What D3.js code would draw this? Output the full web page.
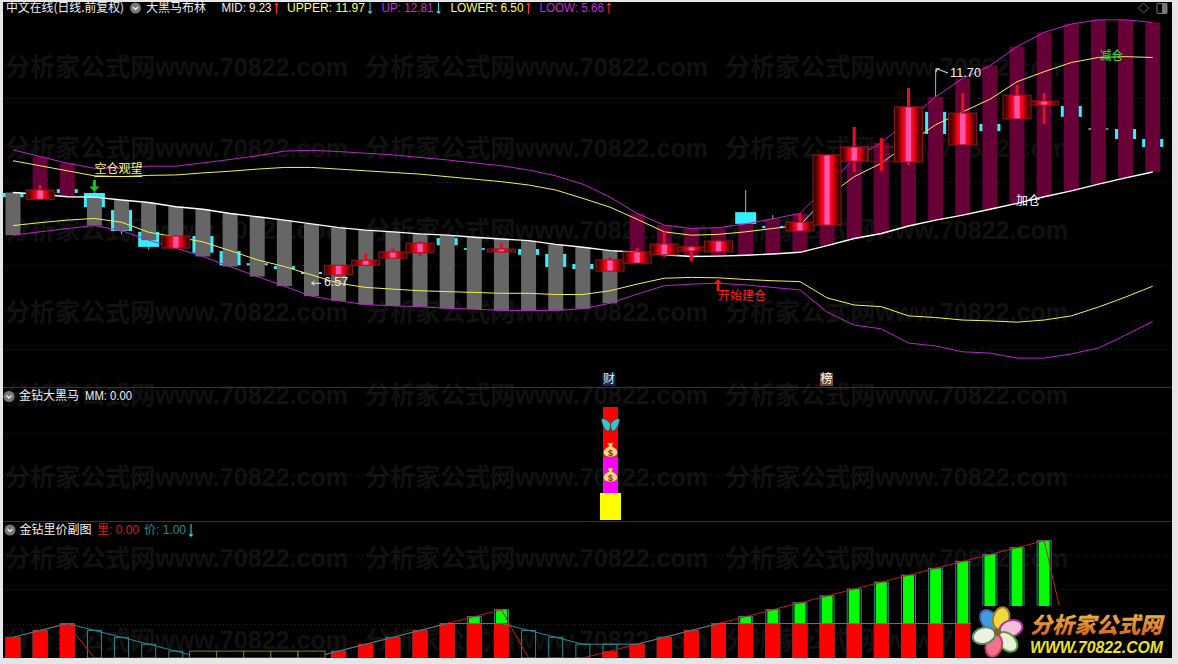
<!DOCTYPE html>
<html><head><meta charset="utf-8">
<script src="https://cdn.jsdelivr.net/npm/d3@7/dist/d3.min.js"></script>
<style>html,body{margin:0;padding:0;background:#e6e6e6;overflow:hidden}svg{display:block}</style>
</head><body><div id="c"></div>
<script>
// ---- data ----
const upBand=[9.76,9.60,9.44,9.32,9.32,9.37,9.37,9.45,9.53,9.62,9.73,9.75,9.72,9.68,9.64,9.58,9.52,9.45,9.38,9.28,9.14,8.94,8.63,8.24,7.96,7.88,7.90,7.99,8.11,8.24,8.88,9.56,9.93,10.47,11.03,11.47,11.77,12.23,12.57,12.77,12.87,12.87,12.81];
const upperBand=[9.50,9.38,9.26,9.14,9.12,9.15,9.16,9.21,9.25,9.30,9.34,9.34,9.30,9.26,9.22,9.18,9.12,9.06,9.00,8.92,8.80,8.60,8.39,8.10,7.80,7.72,7.74,7.80,7.88,7.96,8.64,9.12,9.44,9.92,10.36,10.67,10.97,11.39,11.63,11.85,11.97,11.99,11.97];
const midBand=[8.74,8.70,8.64,8.63,8.56,8.50,8.40,8.34,8.24,8.16,8.08,7.99,7.90,7.84,7.80,7.75,7.72,7.67,7.63,7.59,7.50,7.43,7.35,7.31,7.25,7.21,7.22,7.24,7.27,7.31,7.47,7.64,7.76,7.94,8.08,8.20,8.34,8.48,8.64,8.78,8.94,9.09,9.23];
const lowerBand=[7.95,8.02,8.08,8.12,8.03,7.79,7.68,7.56,7.35,7.13,6.97,6.77,6.57,6.47,6.43,6.39,6.37,6.35,6.33,6.33,6.30,6.30,6.39,6.55,6.69,6.71,6.70,6.66,6.63,6.61,6.22,6.05,6.01,5.79,5.75,5.69,5.67,5.64,5.69,5.79,6.00,6.24,6.50];
const loowBand=[7.72,7.80,7.88,7.95,7.83,7.60,7.41,7.21,6.97,6.73,6.50,6.26,6.15,6.06,6.03,6.01,5.97,5.95,5.92,5.92,5.92,5.96,6.09,6.31,6.51,6.55,6.57,6.53,6.47,6.41,5.88,5.57,5.48,5.14,5.07,4.93,4.90,4.78,4.78,4.88,5.02,5.33,5.66];
const openP=[8.73,8.58,8.82,8.73,8.32,7.80,7.41,7.70,7.34,7.05,6.98,6.84,6.77,7.00,7.17,7.30,7.65,7.41,7.32,7.39,7.27,7.03,6.86,7.05,7.25,7.34,7.32,8.27,7.94,7.82,7.96,9.49,9.49,9.47,10.67,9.88,10.38,10.50,10.83,10.81,10.26,10.26,10.02];
const closeP=[8.63,8.80,8.73,8.39,7.82,7.44,7.70,7.30,7.00,7.00,6.91,6.79,7.00,7.12,7.32,7.53,7.48,7.37,7.39,7.25,6.96,6.91,7.13,7.32,7.51,7.44,7.58,7.99,7.89,8.03,9.64,9.83,9.83,10.79,10.14,10.64,10.21,11.07,10.93,10.55,10.26,10.02,9.83];
const highP=[8.75,8.92,8.85,8.75,8.35,7.85,7.72,7.72,7.36,7.10,7.00,6.88,7.00,7.29,7.41,7.58,7.68,7.43,7.53,7.41,7.30,7.05,7.20,7.41,7.80,7.46,7.60,8.80,8.20,8.25,9.64,10.31,10.04,11.24,11.70,11.12,10.40,11.31,11.12,10.83,10.26,10.28,10.05];
const lowP=[8.60,8.56,8.70,8.30,7.75,7.37,7.38,7.25,6.95,6.95,6.88,6.57,6.65,7.00,7.17,7.22,7.45,7.35,7.30,7.22,6.93,6.88,6.84,7.05,7.20,7.10,7.32,7.97,7.87,7.80,7.96,9.23,9.25,9.40,10.10,9.88,10.19,10.50,10.38,10.53,10.26,10.00,9.80];
const hollowCandles=[32];
const priceGrid=[5,7,9,11];
const liang=[3,4,5,0,0,0,0,0,0,0,0,0,1,2,3,4,5,6,7,0,0,0,1,2,3,4,5,6,7,8,9,10,11,12,13,14,15,16,17,0,0,0,0];
const jia=[3,4,5,4,3,2,1,0,0,0,0,0,1,2,3,4,5,5,5,4,3,2,2,2,3,4,5,5,5,5,5,5,5,5,5,5,5,5,5,4,3,2,1];
const flatBoxes=[7,8,9,10,11];
const volGrid=[5,10,15];
const mmIndex=22;
const mmSegments=[{from:0,to:27,color:"#ffff00",wide:true},{from:27,to:63,color:"#ff00ff",wide:false},{from:63,to:113,color:"#ff0000",wide:false}];
const mmGrid=[45,87];
const headerItems=[
 {t:"中文在线(日线.前复权)",x:6,w:118,c:"#f2f2f2"},
 {t:"大黑马布林",x:146,w:60,c:"#f2f2f2"},
 {t:"MID: 9.23",x:221.5,w:50,c:"#f2f2f2",a:"up"},
 {t:"UPPER: 11.97",x:287,w:78,c:"#ffff66",a:"down"},
 {t:"UP: 12.81",x:381.5,w:52,c:"#c030d8",a:"down"},
 {t:"LOWER: 6.50",x:450.5,w:73,c:"#ffff66",a:"up"},
 {t:"LOOW: 5.66",x:539.5,w:64.5,c:"#c030d8",a:"up"}];
const wmText="分析家公式网www.70822.com";

// ---- scales ----
const W=1178,H=664;
const n=midBand.length;
const idx=d3.range(n);
const x=d3.scaleLinear().domain([0,n-1]).range([13,1152.7]);
const y=d3.scaleLinear().domain([13.345,4]).range([0,390.7]);
const yV=d3.scaleLinear().domain([0,17]).range([658,540.7]);
const yM=d3.scaleLinear().domain([0,113]).range([520,407]);

const svg=d3.select("#c").append("svg").attr("width",W).attr("height",H);
const defs=svg.append("defs");
const g=defs.append("linearGradient").attr("id","cg");
[[0,"#2a0000"],[.12,"#5a0004"],[.3,"#f00010"],[.39,"#ff0a30"],[.42,"#ff55aa"],[.58,"#ff55aa"],[.61,"#ff0a30"],[.7,"#f00010"],[.88,"#5a0004"],[1,"#2a0000"]]
 .forEach(s=>g.append("stop").attr("offset",s[0]).attr("stop-color",s[1]));
const lg=defs.append("linearGradient").attr("id","lg").attr("x1",0).attr("x2",0).attr("y1",0).attr("y2",1);
lg.append("stop").attr("offset",0).attr("stop-color","#f8c850");
lg.append("stop").attr("offset",1).attr("stop-color","#cf5a18");

const SANS="'Liberation Sans','Noto Sans CJK SC',sans-serif", CJK="'Noto Sans CJK SC',sans-serif";
svg.append("rect").attr("width",W).attr("height",H).attr("fill","#e6e6e6");
svg.append("rect").attr("x",3).attr("y",2).attr("width",1169).attr("height",656).attr("fill","#000");

// watermark
[67,148,230,312,395,477,558,640].forEach(wy=>[5,365,725].forEach(wx=>{
  svg.append("text").attr("x",wx).attr("y",wy+9).attr("textLength",343).attr("lengthAdjust","spacingAndGlyphs")
   .attr("font-family",SANS).attr("font-weight","bold").attr("font-size",25).attr("fill","#111111").text(wmText);
}));

function grid(vals,sc){svg.append("g").selectAll("line").data(vals).join("line")
  .attr("x1",3).attr("x2",1172).attr("y1",d=>Math.round(sc(d))+.5).attr("y2",d=>Math.round(sc(d))+.5)
  .attr("stroke","#262626").attr("stroke-dasharray","1 3");}
grid(priceGrid,y);grid(mmGrid,yM);grid(volGrid,yV);
[387.5,521.5].forEach(v=>svg.append("line").attr("x1",3).attr("x2",1172).attr("y1",v).attr("y2",v).attr("stroke","#343434"));

// cyan candles go under the band bars
const isDown=i=>closeP[i]<=openP[i];
const downs=idx.filter(isDown), ups=idx.filter(i=>!isDown(i));
const gd=svg.append("g");
gd.selectAll("line").data(downs).join("line").attr("x1",x).attr("x2",x)
  .attr("y1",i=>y(highP[i])).attr("y2",i=>y(lowP[i])).attr("stroke",i=>openP[i]==closeP[i]?"#000":"#55d8dd");
gd.selectAll("rect").data(downs.filter(i=>openP[i]!=closeP[i])).join("rect")
  .attr("x",i=>x(i)-10.5).attr("width",21).attr("y",i=>y(openP[i])).attr("height",i=>y(closeP[i])-y(openP[i])).attr("fill","#33f0ff");
gd.selectAll("path").data(downs.filter(i=>openP[i]==closeP[i])).join("path")
  .attr("d",i=>`M${x(i)-10} ${y(openP[i])}H${x(i)+10}`).attr("stroke","#fff");

// band bars
const purpleIdx=i=>i==1||i==2||i>=23;
svg.append("g").selectAll("rect").data(idx).join("rect")
  .attr("x",i=>x(i)-7.5).attr("width",15)
  .attr("y",i=>purpleIdx(i)?y(upBand[i]):y(midBand[i]))
  .attr("height",i=>purpleIdx(i)?y(midBand[i])-y(upBand[i]):y(loowBand[i])-y(midBand[i]))
  .attr("fill",i=>purpleIdx(i)?"#660036":"#666666");

// band lines
const line=a=>d3.line().x((d,i)=>x(i)).y(d=>y(d))(a);
[[upBand,"#b826c8",1],[upperBand,"#f2f24a",1],[lowerBand,"#f2f24a",1],[loowBand,"#b826c8",1],[midBand,"#ffffff",1.4]]
 .forEach(s=>svg.append("path").attr("d",line(s[0])).attr("fill","none").attr("stroke",s[1]).attr("stroke-width",s[2]));

// red candles
const gu=svg.append("g");
gu.selectAll("line").data(ups).join("line").attr("x1",x).attr("x2",x)
  .attr("y1",i=>y(highP[i])).attr("y2",i=>y(lowP[i])).attr("stroke","#ee0a20").attr("stroke-width",3);
gu.selectAll("rect").data(ups).join("rect")
  .attr("x",i=>x(i)-14).attr("width",28).attr("y",i=>y(closeP[i])).attr("height",i=>y(openP[i])-y(closeP[i]))
  .attr("fill",i=>hollowCandles.includes(i)?"none":"url(#cg)").attr("stroke","#8a1c1c");
gu.selectAll("line.h").data(hollowCandles).join("line").attr("class","h").attr("x1",x).attr("x2",x)
  .attr("y1",i=>y(highP[i])).attr("y2",i=>y(lowP[i])).attr("stroke","#ee0a20").attr("stroke-width",3);

// annotations
function txt(t,xx,yy,c,size,font,w,anchor){const e=svg.append("text").attr("x",xx).attr("y",yy).attr("fill",c)
  .attr("font-size",size||12).attr("font-family",font||CJK).attr("dominant-baseline","middle").text(t);
  if(w)e.attr("textLength",w).attr("lengthAdjust","spacingAndGlyphs"); if(anchor)e.attr("text-anchor",anchor);return e;}
function arrow(xx,y1,y2,c,hw,sw){const d=y2>y1?1:-1;
  svg.append("line").attr("x1",xx).attr("x2",xx).attr("y1",y1).attr("y2",y2-d*hw).attr("stroke",c).attr("stroke-width",sw);
  svg.append("path").attr("d",`M${xx-hw} ${y2-d*hw*1.1}L${xx+hw} ${y2-d*hw*1.1}L${xx} ${y2}Z`).attr("fill",c);}

txt("空仓观望",x(3),170,"#f5f56a",12,CJK,48);
svg.append("line").attr("x1",x(3)).attr("x2",142).attr("y1",176.5).attr("y2",176.5).attr("stroke","#f2f24a");
arrow(x(3),180,192,"#18c020",5,3);
txt("开始建仓",718,297,"#ff2020",12,CJK,48);
arrow(718,291,279,"#ff1010",4.5,2.5);
txt("加仓",x(37)-1,202,"#ffffff",12,CJK,24);
txt("减仓",1100,57,"#30e030",12,CJK,23);
// extreme labels
const iMax=highP.indexOf(d3.max(highP)), iMin=lowP.indexOf(d3.min(lowP));
txt("6.57",324,283,"#f0f0f0",12,SANS,24);
svg.append("path").attr("d",`M${x(iMin)} ${y(lowP[iMin])}H321M${x(iMin)} ${y(lowP[iMin])}l3 -2M${x(iMin)} ${y(lowP[iMin])}l3 2`).attr("stroke","#e8e8e8").attr("fill","none");
txt("11.70",950,74,"#f0f0f0",12,SANS,31);
svg.append("path").attr("d",`M${x(iMax)+1} ${y(highP[iMax])}L948 73M${x(iMax)+1} ${y(highP[iMax])}h3M${x(iMax)+1} ${y(highP[iMax])}v3`).attr("stroke","#e8e8e8").attr("fill","none");

// header
function chevron(cx,cy){svg.append("circle").attr("cx",cx).attr("cy",cy).attr("r",5.5).attr("fill","#777");
  svg.append("path").attr("d",`M${cx-2.5} ${cy-1}L${cx} ${cy+1.5}L${cx+2.5} ${cy-1}`).attr("fill","none").attr("stroke","#eee").attr("stroke-width",1.4);}
headerItems.forEach(h=>{txt(h.t,h.x,9,h.c,12,/[A-Z]/.test(h.t)?SANS:CJK,h.w);
  if(h.a){const ax=h.x+h.w+5;
   if(h.a=="up")arrow(ax,14,2.5,"#ff3030",2.5,1);else arrow(ax,2.5,14,"#30e8f0",2.5,1);}});
chevron(135.5,8);
svg.append("path").attr("d","M1143.5 3L1148.5 8L1143.5 13L1138.5 8Z").attr("fill","none").attr("stroke","#666");
svg.append("rect").attr("x",1157).attr("y",3.5).attr("width",10).attr("height",10).attr("rx",1).attr("fill","none").attr("stroke","#777");
svg.append("rect").attr("x",1162).attr("y",3.5).attr("width",5).attr("height",10).attr("fill","#777");

// panel 2
chevron(9,396.5);
txt("金钻大黑马",19,397,"#f2f2f2",12,CJK,60);
txt("MM: 0.00",85,397,"#f2f2f2",12,SANS,47);
svg.append("g").selectAll("rect").data(mmSegments).join("rect")
  .attr("x",d=>x(mmIndex)+.5-(d.wide?10.5:7.5)).attr("width",d=>d.wide?21:15)
  .attr("y",d=>yM(d.to)).attr("height",d=>yM(d.from)-yM(d.to)).attr("fill",d=>d.color);
function tag(ch,i,bg,fg,xx){svg.append("rect").attr("x",xx-6.5).attr("y",373).attr("width",13).attr("height",13).attr("fill",bg);
  txt(ch,xx,380,fg,12,CJK,null,"middle");}
tag("财",mmIndex,"#0a2a50","#cfe8ff",609);
tag("榜",30,"#7a4a1c","#ffffff",826.5);
function bag(cx,cy){svg.append("path").attr("d",`M${cx-3} ${cy-7}h6l-1.5 3.5c4 1.5 5.5 4 5.5 6 0 3 -3 4.5 -7 4.5s-7 -1.5 -7 -4.5c0 -2 1.5 -4.5 5.5 -6z`)
  .attr("fill","#f6d888").attr("stroke","#8a5a28").attr("stroke-width",.8);
  svg.append("text").attr("x",cx).attr("y",cy+5.5).attr("text-anchor","middle").attr("font-family",SANS).attr("font-weight","bold").attr("font-size",9).attr("fill","#8a2a18").text("$");}
const bx=x(mmIndex)+.5;
svg.append("path").attr("d",`M${bx} ${424}C${bx-3} 419 ${bx-8} 418 ${bx-9} 419C${bx-9} 423 ${bx-6} 431 ${bx-2} 431C${bx-1} 430 ${bx} 428 ${bx} 424C${bx} 428 ${bx+1} 430 ${bx+2} 431C${bx+6} 431 ${bx+9} 423 ${bx+9} 419C${bx+8} 418 ${bx+3} 419 ${bx} 424Z`).attr("fill","#30c8d0").attr("stroke","#0a4a50").attr("stroke-width",.6);
bag(bx,450);bag(bx,475);

// panel 3
chevron(10,530);
txt("金钻里价副图",19.5,530.5,"#f2f2f2",12,CJK,72);
txt("里",97,530.5,"#e01818",12,CJK,12);
txt(": 0.00",109,530.5,"#e01818",12,SANS,30);
txt("价",144,530.5,"#2a8a90",12,CJK,12);
txt(": 1.00",156,530.5,"#2a8a90",12,SANS,30);
arrow(191,524,537,"#30e8f0",2.5,1);

const linkLine=a=>d3.line().x((d,i)=>x(i)).y(d=>yV(d))(a);
const gv=svg.append("g");
// 里 above 价 : green body
gv.selectAll("rect.gr").data(idx.filter(i=>liang[i]>jia[i]&&jia[i]==5)).join("rect").attr("class","gr")
  .attr("x",i=>x(i)-5.5).attr("width",11).attr("y",i=>yV(liang[i])).attr("height",i=>yV(jia[i])-yV(liang[i])).attr("fill","#00ff00");
// 价 outline boxes
gv.selectAll("rect.ol").data(idx.filter(i=>jia[i]>0||liang[i]>0)).join("rect").attr("class","ol")
  .attr("x",i=>x(i)-7).attr("width",14).attr("y",i=>yV(Math.max(jia[i],liang[i]))).attr("height",i=>yV(0)-yV(Math.max(jia[i],liang[i])))
  .attr("fill","none").attr("stroke","#2a8a90").attr("stroke-width",1);
// red bodies
gv.selectAll("rect.rd").data(idx.filter(i=>liang[i]>0)).join("rect").attr("class","rd")
  .attr("x",i=>x(i)-7.5).attr("width",15).attr("y",i=>yV(Math.min(liang[i],jia[i]))).attr("height",i=>yV(0)-yV(Math.min(liang[i],jia[i])))
  .attr("fill","#ff0000");
svg.append("path").attr("d",linkLine(liang)).attr("fill","none").attr("stroke","#c81818");
svg.append("path").attr("d",linkLine(jia)).attr("fill","none").attr("stroke","#2a8a90");
svg.append("g").selectAll("rect").data(flatBoxes).join("rect")
  .attr("x",i=>x(i)-13.5).attr("width",27).attr("y",yV(1)).attr("height",yV(0)-yV(1))
  .attr("fill","#000").attr("stroke","#7f7f28");

// logo
svg.append("rect").attr("x",971).attr("y",606).attr("width",201).attr("height",54).attr("fill","#000");
const fx=997.5,fy=632;
[["#3a9fe0","#5060b0",-35],["#f0d840","#a08020",15],["#f6c0d8","#b030a0",75],["#e8f0d8","#50a040",135],["#f4708c","#c04060",195],["#f0f0e0","#509060",255]].forEach(p=>{
 svg.append("ellipse").attr("cx",fx).attr("cy",fy-14).attr("rx",8).attr("ry",11.5).attr("fill",p[0]).attr("stroke",p[1]).attr("stroke-width",2)
  .attr("transform",`rotate(${p[2]} ${fx} ${fy})`);});
svg.append("circle").attr("cx",fx).attr("cy",fy).attr("r",3.5).attr("fill","#806040");
svg.append("text").attr("x",1030).attr("y",633).attr("font-family",CJK).attr("font-weight","900").attr("font-size",22).attr("font-style","italic")
  .attr("textLength",132).attr("lengthAdjust","spacingAndGlyphs").attr("fill","url(#lg)").text("分析家公式网");
svg.append("text").attr("x",1030).attr("y",653).attr("font-family",SANS).attr("font-weight","bold").attr("font-style","italic").attr("font-size",16)
  .attr("textLength",133).attr("lengthAdjust","spacingAndGlyphs").attr("fill","#f0e020").text("WWW.70822.COM");
// frame on top
svg.append("rect").attr("x",0).attr("y",658).attr("width",W).attr("height",6).attr("fill","#e6e6e6");
svg.append("rect").attr("x",1172).attr("y",0).attr("width",6).attr("height",H).attr("fill","#e6e6e6");
</script></body></html>
